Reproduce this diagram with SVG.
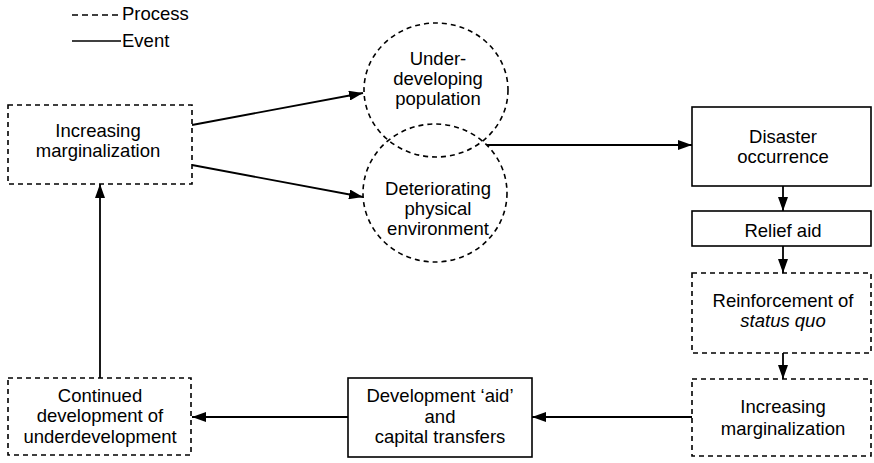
<svg xmlns="http://www.w3.org/2000/svg" width="874" height="463" viewBox="0 0 874 463">
<defs>
<marker id="ah" viewBox="0 0 14 10" refX="14" refY="5" markerWidth="14" markerHeight="10" markerUnits="userSpaceOnUse" orient="auto">
<path d="M0,0 L14,5 L0,10 Z" fill="#000"/>
</marker>
<style>
text{font-family:"Liberation Sans",Arial,sans-serif;font-size:18.5px;fill:#000;text-anchor:middle}
.proc{fill:#fff;stroke:#000;stroke-width:1.6;stroke-dasharray:5 4}
.circ{fill:none;stroke:#000;stroke-width:1.6;stroke-dasharray:5 4}
.evt{fill:#fff;stroke:#000;stroke-width:1.6}
.con{fill:none;stroke:#000;stroke-width:1.8}
.arr{marker-end:url(#ah)}
.leg{text-anchor:start}
</style>
</defs>
<rect width="874" height="463" fill="#fff"/>
<g id="legend">
<line x1="72" y1="15" x2="121" y2="15" stroke="#000" stroke-width="1.6" stroke-dasharray="6 4"/>
<text x="122" y="20" class="leg">Process</text>
<line x1="72" y1="41" x2="121" y2="41" stroke="#000" stroke-width="1.6"/>
<text x="122" y="47" class="leg">Event</text>
</g>
<g id="connectors">
<line x1="192" y1="125" x2="363" y2="93" class="con arr"/>
<line x1="192" y1="165" x2="363" y2="197" class="con arr"/>
<line x1="487" y1="145" x2="692" y2="145" class="con arr"/>
<line x1="783" y1="186" x2="783" y2="211" class="con arr"/>
<line x1="783" y1="246" x2="783" y2="273" class="con arr"/>
<line x1="783" y1="353" x2="783" y2="379" class="con arr"/>
<line x1="692" y1="417" x2="532" y2="417" class="con arr"/>
<line x1="348" y1="417" x2="192" y2="417" class="con arr"/>
<line x1="100" y1="378" x2="100" y2="184" class="con arr"/>
</g>
<g id="n-increasing-top">
<rect x="8" y="105" width="184" height="79" class="proc"/>
<text x="98" y="137">Increasing</text>
<text x="98" y="157">marginalization</text>
</g>
<g id="n-underdeveloping">
<ellipse cx="436" cy="90" rx="72" ry="67" class="circ"/>
<text x="438" y="65">Under-</text>
<text x="438" y="85">developing</text>
<text x="438" y="105">population</text>
</g>
<g id="n-deteriorating">
<ellipse cx="435" cy="193" rx="72" ry="69" class="circ"/>
<text x="438" y="195">Deteriorating</text>
<text x="438" y="215">physical</text>
<text x="438" y="235">environment</text>
</g>
<g id="n-disaster">
<rect x="692" y="107" width="179" height="79" class="evt"/>
<text x="783" y="143">Disaster</text>
<text x="783" y="163">occurrence</text>
</g>
<g id="n-relief">
<rect x="692" y="211" width="179" height="35" class="evt"/>
<text x="783" y="237">Relief aid</text>
</g>
<g id="n-reinforcement">
<rect x="692" y="273" width="179" height="80" class="proc"/>
<text x="783" y="307">Reinforcement of</text>
<text x="783" y="327" font-style="italic">status quo</text>
</g>
<g id="n-increasing-right">
<rect x="692" y="379" width="179" height="77" class="proc"/>
<text x="783" y="413">Increasing</text>
<text x="783" y="435">marginalization</text>
</g>
<g id="n-development-aid">
<rect x="348" y="378" width="184" height="79" class="evt"/>
<text x="440" y="402">Development ‘aid’</text>
<text x="440" y="423">and</text>
<text x="440" y="443">capital transfers</text>
</g>
<g id="n-continued">
<rect x="8" y="378" width="183" height="77" class="proc"/>
<text x="100" y="402">Continued</text>
<text x="100" y="422">development of</text>
<text x="100" y="443">underdevelopment</text>
</g>
</svg>
